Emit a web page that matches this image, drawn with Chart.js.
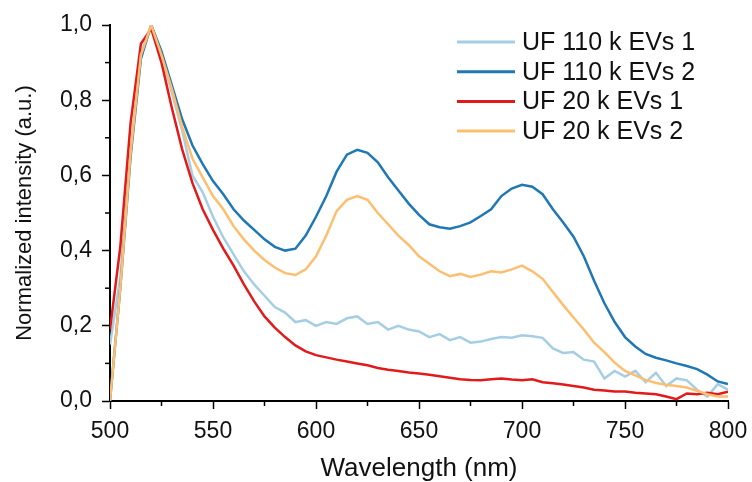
<!DOCTYPE html>
<html>
  <head>
    <meta charset="UTF-8" />
    <title>spectra</title>
    <script src="https://cdn.jsdelivr.net/npm/chart.js@4.4.1/dist/chart.umd.min.js"></script>
    <style>
      body { margin: 0; background: #fff; }
      #wrap { width: 752px; height: 482px; }
    </style>
  </head>
  <body>
    <div id="wrap"><canvas id="chart" width="752" height="482"></canvas></div>
    <script>
      // wavelength grid (nm)
      const wavelengths = []
      for (let w = 500; w <= 800; w += 5) wavelengths.push(w)

      const labels = ['UF 110 k EVs 1', 'UF 110 k EVs 2', 'UF 20 k EVs 1', 'UF 20 k EVs 2']
      const colors = ['#a6cee3', '#1f78b4', '#e31a1c', '#fdbf6f']

      const uf110_1 = [0.15, 0.33, 0.66, 0.92, 1.00, 0.92, 0.82, 0.72, 0.60, 0.555,
        0.49, 0.435, 0.39, 0.345, 0.31, 0.28, 0.25, 0.235, 0.21, 0.215,
        0.20, 0.21, 0.205, 0.22, 0.225, 0.205, 0.21, 0.19, 0.20, 0.19,
        0.185, 0.17, 0.178, 0.162, 0.17, 0.155, 0.158, 0.165, 0.17, 0.168,
        0.175, 0.172, 0.168, 0.14, 0.128, 0.13, 0.11, 0.105, 0.06, 0.08,
        0.065, 0.08, 0.05, 0.075, 0.04, 0.06, 0.055, 0.03, 0.012, 0.045, 0.03]
      const uf110_2 = [0.00, 0.30, 0.65, 0.91, 1.00, 0.93, 0.84, 0.75, 0.68, 0.63,
        0.585, 0.55, 0.51, 0.48, 0.455, 0.43, 0.41, 0.40, 0.405, 0.44,
        0.49, 0.545, 0.61, 0.655, 0.668, 0.66, 0.635, 0.595, 0.56, 0.525,
        0.495, 0.47, 0.462, 0.458, 0.465, 0.475, 0.492, 0.51, 0.545, 0.565,
        0.575, 0.57, 0.55, 0.51, 0.475, 0.437, 0.385, 0.32, 0.26, 0.21,
        0.17, 0.145, 0.125, 0.115, 0.108, 0.10, 0.093, 0.085, 0.07, 0.052, 0.045]
      const uf20_1 = [0.19, 0.41, 0.74, 0.95, 0.99, 0.90, 0.78, 0.67, 0.58, 0.51,
        0.455, 0.405, 0.36, 0.31, 0.265, 0.225, 0.195, 0.17, 0.148, 0.132,
        0.122, 0.116, 0.11, 0.105, 0.10, 0.095, 0.088, 0.083, 0.08, 0.076,
        0.073, 0.07, 0.066, 0.062, 0.058, 0.056, 0.055, 0.058, 0.06, 0.057,
        0.055, 0.058, 0.05, 0.047, 0.044, 0.04, 0.036, 0.03, 0.028, 0.025,
        0.025, 0.022, 0.02, 0.018, 0.012, 0.005, 0.02, 0.018, 0.022, 0.018, 0.025]
      const uf20_2 = [0.00, 0.30, 0.66, 0.92, 1.00, 0.92, 0.83, 0.73, 0.645, 0.595,
        0.545, 0.51, 0.465, 0.43, 0.40, 0.375, 0.355, 0.34, 0.335, 0.35,
        0.385, 0.44, 0.505, 0.535, 0.545, 0.535, 0.50, 0.47, 0.44, 0.415,
        0.385, 0.365, 0.345, 0.332, 0.338, 0.33, 0.336, 0.345, 0.342, 0.35,
        0.36, 0.345, 0.325, 0.29, 0.255, 0.222, 0.19, 0.155, 0.13, 0.102,
        0.08, 0.068, 0.056, 0.048, 0.043, 0.04, 0.036, 0.027, 0.018, 0.012, 0.012]

      const series = [uf110_1, uf110_2, uf20_1, uf20_2]
      const drawOrder = [4, 3, 2, 1]

      const fontFamily = "'Liberation Sans', Arial, sans-serif"

      // minor ticks, x title and legend drawn by hand
      const extras = {
        id: 'extras',
        afterDraw (chart) {
          const ctx = chart.ctx
          const xs = chart.scales.x
          const ys = chart.scales.y
          ctx.save()
          ctx.strokeStyle = '#000'
          ctx.lineWidth = 1.5
          for (let v = 525; v < 800; v += 50) {
            const px = xs.getPixelForValue(v)
            ctx.beginPath()
            ctx.moveTo(px, xs.top)
            ctx.lineTo(px, xs.top + 5)
            ctx.stroke()
          }
          for (let v = 0.1; v < 1.0; v += 0.2) {
            const py = ys.getPixelForValue(v)
            ctx.beginPath()
            ctx.moveTo(ys.right, py)
            ctx.lineTo(ys.right - 5, py)
            ctx.stroke()
          }
          ctx.fillStyle = '#111'
          ctx.font = '26px ' + fontFamily
          ctx.textAlign = 'center'
          ctx.textBaseline = 'alphabetic'
          ctx.fillText('Wavelength (nm)', (chart.chartArea.left + chart.chartArea.right) / 2, 476)
          // legend
          ctx.font = '25px ' + fontFamily
          ctx.textAlign = 'left'
          ctx.textBaseline = 'middle'
          labels.forEach((lab, i) => {
            const y = 42 + i * 29.7
            ctx.strokeStyle = colors[i]
            ctx.lineWidth = 3
            ctx.beginPath()
            ctx.moveTo(457, y)
            ctx.lineTo(515, y)
            ctx.stroke()
            ctx.fillText(lab, 522, y + 1)
          })
          ctx.restore()
        }
      }

      window.onload = function () {
        const context = document.querySelector('#chart').getContext('2d')
        const datasets = series.map((s, i) => ({
          label: labels[i],
          data: wavelengths.map((w, j) => ({ x: w, y: s[j] })),
          borderColor: colors[i],
          borderWidth: 2.5,
          pointRadius: 0,
          tension: 0,
          order: drawOrder[i],
        }))
        window.chart = new Chart(context, {
          type: 'line',
          data: { datasets: datasets },
          options: {
            responsive: false,
            animation: false,
            layout: { padding: { top: 25, right: 24, left: 8, bottom: 0 } },
            plugins: { legend: { display: false }, tooltip: { enabled: false } },
            scales: {
              x: {
                type: 'linear',
                min: 500,
                max: 800,
                afterFit: s => { s.height = 81; s.paddingRight = 0; s.paddingLeft = 0 },
                border: { display: true, color: '#000', width: 2 },
                grid: { drawOnChartArea: false, tickLength: 8, color: '#000', tickWidth: 1.5 },
                ticks: { stepSize: 50, color: '#111', padding: 9, maxRotation: 0,
                  font: { family: fontFamily, size: 23 } },
              },
              y: {
                min: 0,
                max: 1,
                afterFit: s => { s.width = 102; s.paddingTop = 0; s.paddingBottom = 0 },
                border: { display: true, color: '#000', width: 2 },
                grid: { drawOnChartArea: false, tickLength: 8, color: '#000', tickWidth: 1.5 },
                ticks: { stepSize: 0.2, color: '#111', padding: 10,
                  font: { family: fontFamily, size: 23 },
                  callback: v => v.toFixed(1).replace('.', ',') },
                title: { display: true, text: 'Normalized intensity (a.u.)', color: '#111',
                  font: { family: fontFamily, size: 22 }, padding: { top: 4, bottom: 16 } },
              },
            },
          },
          plugins: [extras],
        })
      }
    </script>
  </body>
</html>
